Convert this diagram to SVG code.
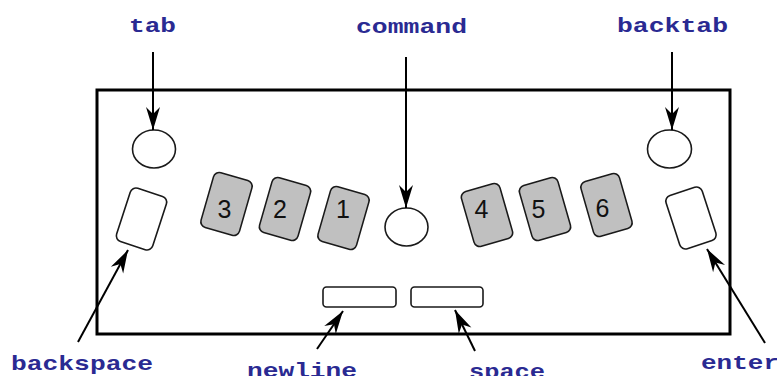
<svg xmlns="http://www.w3.org/2000/svg" width="777" height="376" viewBox="0 0 777 376">
<style>
.lbl{font-family:"Liberation Mono","DejaVu Sans Mono",monospace;font-weight:bold;font-size:21px;fill:#2a2a92}
.key{fill:#c0c0c0;stroke:#1a1a1a;stroke-width:1.6}
.wkey{fill:#ffffff;stroke:#1a1a1a;stroke-width:1.6}
.dig{font-family:"Liberation Sans",Arial,sans-serif;font-size:25px;fill:#111;text-anchor:middle}
.con{fill:none;stroke:#000;stroke-width:2;marker-end:url(#ah)}
</style>
<defs>
<marker id="ah" markerWidth="26" markerHeight="16" refX="24" refY="8" orient="auto" markerUnits="userSpaceOnUse" viewBox="0 0 26 16">
<path d="M24,8 L1,1 L8,8 L1,15 Z" fill="#000"/>
</marker>
</defs>
<rect width="777" height="376" fill="#fff"/>
<g id="panel"><rect x="97" y="90" width="633" height="244" fill="none" stroke="#000" stroke-width="3"/></g>
<g id="tab-key"><ellipse cx="154" cy="149" rx="21.5" ry="19" class="wkey"/></g>
<g id="command-key"><ellipse cx="406.5" cy="227" rx="21.5" ry="19" class="wkey"/></g>
<g id="backtab-key"><ellipse cx="669.5" cy="149" rx="22" ry="19" class="wkey"/></g>
<g id="backspace-key"><rect x="-19" y="-28" width="38" height="56" rx="6" class="wkey" transform="translate(141.5,219) rotate(18)"/></g>
<g id="enter-key"><rect x="-19" y="-28" width="38" height="56" rx="6" class="wkey" transform="translate(691,218) rotate(-18)"/></g>
<g id="key3"><rect x="-20" y="-28.5" width="40" height="57" rx="6" class="key" transform="translate(226.5,204) rotate(16)"/><text x="224.5" y="218" class="dig">3</text></g>
<g id="key2"><rect x="-20" y="-28.5" width="40" height="57" rx="6" class="key" transform="translate(285,209) rotate(16)"/><text x="280" y="218" class="dig">2</text></g>
<g id="key1"><rect x="-20" y="-28.5" width="40" height="57" rx="6" class="key" transform="translate(343.5,218) rotate(16)"/><text x="343" y="218" class="dig">1</text></g>
<g id="key4"><rect x="-20" y="-28.5" width="40" height="57" rx="6" class="key" transform="translate(487,215) rotate(-16)"/><text x="481.5" y="218" class="dig">4</text></g>
<g id="key5"><rect x="-20" y="-28.5" width="40" height="57" rx="6" class="key" transform="translate(545,209) rotate(-16)"/><text x="538.5" y="218" class="dig">5</text></g>
<g id="key6"><rect x="-20" y="-28.5" width="40" height="57" rx="6" class="key" transform="translate(606.5,205) rotate(-16)"/><text x="602.5" y="217" class="dig">6</text></g>
<g id="newline-key"><rect x="323" y="287" width="73" height="20" rx="3.5" class="wkey"/></g>
<g id="space-key"><rect x="411" y="287" width="72" height="20" rx="3.5" class="wkey"/></g>
<g id="connectors">
<path class="con" d="M153,52 V130"/>
<path class="con" d="M406,57 V208"/>
<path class="con" d="M672,52 V130"/>
<path class="con" d="M78,342 L128,250"/>
<path class="con" d="M317,349 L343,311"/>
<path class="con" d="M475,351 L455,310"/>
<path class="con" d="M765,343 L707,249"/>
</g>
<g id="labels">
<text x="129" y="32" class="lbl" textLength="47" lengthAdjust="spacingAndGlyphs">tab</text>
<text x="356" y="33" class="lbl" textLength="111" lengthAdjust="spacingAndGlyphs">command</text>
<text x="617" y="32" class="lbl" textLength="111" lengthAdjust="spacingAndGlyphs">backtab</text>
<text x="11" y="370" class="lbl" textLength="142" lengthAdjust="spacingAndGlyphs">backspace</text>
<text x="247" y="377" class="lbl" textLength="110" lengthAdjust="spacingAndGlyphs">newline</text>
<text x="469" y="378" class="lbl" textLength="76" lengthAdjust="spacingAndGlyphs">space</text>
<text x="701" y="369" class="lbl" textLength="78" lengthAdjust="spacingAndGlyphs">enter</text>
</g>
</svg>
